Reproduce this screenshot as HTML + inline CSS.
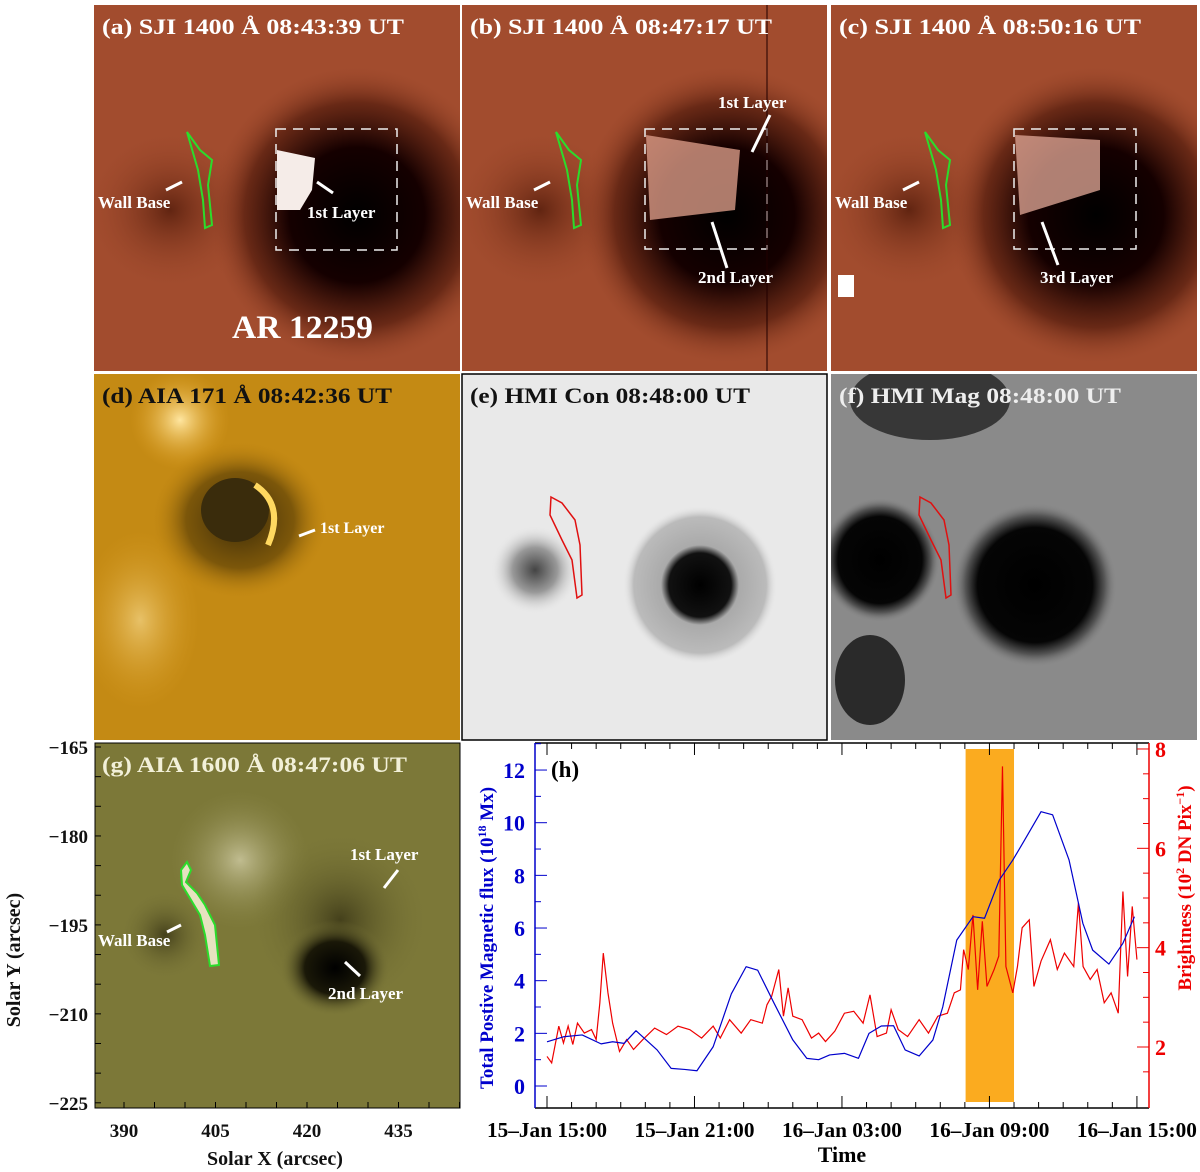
<!DOCTYPE html>
<html><head><meta charset="utf-8">
<style>
body{margin:0;background:#fff;}
svg{display:block;font-family:"Liberation Serif",serif;font-weight:bold;}
</style></head>
<body>
<svg id="fig" width="1200" height="1172" viewBox="0 0 1200 1172" xmlns="http://www.w3.org/2000/svg">
<defs>
<radialGradient id="spotA" cx="0.5" cy="0.5" r="0.5"><stop offset="0" stop-color="#000"/><stop offset="0.45" stop-color="#150000"/><stop offset="0.75" stop-color="#5a2010" stop-opacity="0.8"/><stop offset="1" stop-color="#a04a2c" stop-opacity="0"/></radialGradient>
<radialGradient id="spotL" cx="0.5" cy="0.5" r="0.5"><stop offset="0" stop-color="#5a200e" stop-opacity="0.9"/><stop offset="1" stop-color="#a04a2c" stop-opacity="0"/></radialGradient>
<radialGradient id="dspot" cx="0.5" cy="0.5" r="0.5"><stop offset="0" stop-color="#3a2a08"/><stop offset="0.6" stop-color="#6a4a08" stop-opacity="0.8"/><stop offset="1" stop-color="#c88a10" stop-opacity="0"/></radialGradient>
<radialGradient id="dbright" cx="0.5" cy="0.5" r="0.5"><stop offset="0" stop-color="#ffe6a0"/><stop offset="1" stop-color="#e0a020" stop-opacity="0"/></radialGradient>
<radialGradient id="epen" cx="0.5" cy="0.5" r="0.5"><stop offset="0" stop-color="#000"/><stop offset="0.4" stop-color="#111"/><stop offset="0.5" stop-color="#aaa"/><stop offset="0.85" stop-color="#bbb"/><stop offset="1" stop-color="#eee" stop-opacity="0"/></radialGradient>
<radialGradient id="epen2" cx="0.5" cy="0.5" r="0.5"><stop offset="0" stop-color="#444"/><stop offset="0.5" stop-color="#999"/><stop offset="1" stop-color="#eee" stop-opacity="0"/></radialGradient>
<radialGradient id="fspot" cx="0.5" cy="0.5" r="0.5"><stop offset="0" stop-color="#000"/><stop offset="0.7" stop-color="#050505"/><stop offset="0.85" stop-color="#555"/><stop offset="1" stop-color="#888" stop-opacity="0"/></radialGradient>
<radialGradient id="gspot" cx="0.5" cy="0.5" r="0.5"><stop offset="0" stop-color="#000"/><stop offset="0.55" stop-color="#1a1808"/><stop offset="1" stop-color="#7a7638" stop-opacity="0"/></radialGradient>
<radialGradient id="gdark" cx="0.5" cy="0.5" r="0.5"><stop offset="0" stop-color="#3e3a18" stop-opacity="0.9"/><stop offset="1" stop-color="#7a7638" stop-opacity="0"/></radialGradient>
<radialGradient id="gbright" cx="0.5" cy="0.5" r="0.5"><stop offset="0" stop-color="#c8c49a" stop-opacity="0.9"/><stop offset="1" stop-color="#8a8648" stop-opacity="0"/></radialGradient>
<clipPath id="cA"><rect x="94" y="5" width="366" height="366"/></clipPath>
<clipPath id="cB"><rect x="462" y="5" width="365" height="366"/></clipPath>
<clipPath id="cC"><rect x="831" y="5" width="366" height="366"/></clipPath>
<clipPath id="cD"><rect x="94" y="374" width="366" height="366"/></clipPath>
<clipPath id="cE"><rect x="462" y="374" width="365" height="366"/></clipPath>
<clipPath id="cF"><rect x="831" y="374" width="366" height="366"/></clipPath>
<clipPath id="cG"><rect x="95" y="743" width="365" height="365"/></clipPath>
</defs>

<!-- Panel a -->
<g clip-path="url(#cA)">
<rect x="94" y="5" width="366" height="366" fill="#a24c2e"/>
<ellipse cx="170" cy="210" rx="85" ry="80" fill="url(#spotL)"/>
<ellipse cx="357" cy="215" rx="150" ry="150" fill="url(#spotA)"/>
<path d="M277 150 L315 158 L312 190 L300 210 L277 210 Z" fill="#f5ece8"/>
<path d="M187 132 L200 150 L212 160 L208 185 L212 225 L205 228 L203 200 L198 170 Z" fill="none" stroke="#2bdc2b" stroke-width="2"/>
<rect x="276" y="129" width="121" height="121" fill="none" stroke="#eee" stroke-width="1.5" stroke-dasharray="10,7"/>
</g>
<!-- Panel b -->
<g clip-path="url(#cB)">
<rect x="462" y="5" width="365" height="366" fill="#a24c2e"/>
<ellipse cx="540" cy="210" rx="85" ry="80" fill="url(#spotL)"/>
<ellipse cx="727" cy="215" rx="150" ry="150" fill="url(#spotA)"/>
<path d="M646 135 L740 150 L735 210 L650 220 Z" fill="#d89a86" opacity="0.8"/>
<path d="M556 132 L569 150 L581 160 L577 185 L581 225 L574 228 L572 200 L567 170 Z" fill="none" stroke="#2bdc2b" stroke-width="2"/>
<rect x="645" y="129" width="122" height="120" fill="none" stroke="#eee" stroke-width="1.5" stroke-dasharray="10,7"/>
<line x1="767" y1="5" x2="767" y2="371" stroke="#200" stroke-width="2" opacity="0.5"/>
</g>
<!-- Panel c -->
<g clip-path="url(#cC)">
<rect x="831" y="5" width="366" height="366" fill="#a24c2e"/>
<ellipse cx="909" cy="210" rx="85" ry="80" fill="url(#spotL)"/>
<ellipse cx="1096" cy="215" rx="150" ry="150" fill="url(#spotA)"/>
<path d="M1015 135 L1100 140 L1100 190 L1020 215 Z" fill="#d8a090" opacity="0.8"/>
<path d="M925 132 L938 150 L950 160 L946 185 L950 225 L943 228 L941 200 L936 170 Z" fill="none" stroke="#2bdc2b" stroke-width="2"/>
<rect x="1014" y="129" width="122" height="120" fill="none" stroke="#eee" stroke-width="1.5" stroke-dasharray="10,7"/>
<rect x="838" y="275" width="16" height="22" fill="#fff"/>
</g>
<!-- Panel d -->
<g clip-path="url(#cD)">
<rect x="94" y="374" width="366" height="366" fill="#c48a14"/>
<ellipse cx="180" cy="420" rx="50" ry="50" fill="url(#dbright)"/>
<ellipse cx="140" cy="620" rx="60" ry="90" fill="url(#dbright)" opacity="0.6"/>
<ellipse cx="240" cy="520" rx="90" ry="80" fill="url(#dspot)"/>
<ellipse cx="235" cy="510" rx="34" ry="32" fill="#3a2c0c"/>
<path d="M255 485 Q285 505 268 545" fill="none" stroke="#ffd860" stroke-width="6"/>
</g>
<!-- Panel e -->
<g clip-path="url(#cE)">
<rect x="462" y="374" width="365" height="366" fill="#e9e9e9"/>
<ellipse cx="535" cy="570" rx="45" ry="45" fill="url(#epen2)"/>
<ellipse cx="700" cy="585" rx="78" ry="80" fill="url(#epen)"/>
<path d="M551 497 L562 503 L575 520 L580 545 L582 595 L577 598 L572 560 L562 540 L550 515 Z" fill="none" stroke="#e01010" stroke-width="1.5"/>
</g>
<rect x="462" y="374" width="365" height="366" fill="none" stroke="#000" stroke-width="1.5"/>
<!-- Panel f -->
<g clip-path="url(#cF)">
<rect x="831" y="374" width="366" height="366" fill="#8a8a8a"/>
<ellipse cx="1035" cy="585" rx="82" ry="82" fill="url(#fspot)"/>
<ellipse cx="880" cy="560" rx="60" ry="62" fill="url(#fspot)"/>
<ellipse cx="930" cy="400" rx="80" ry="40" fill="#222" opacity="0.8"/>
<ellipse cx="870" cy="680" rx="35" ry="45" fill="#111" opacity="0.8"/>
<path d="M920 497 L931 503 L944 520 L949 545 L951 595 L946 598 L941 560 L931 540 L919 515 Z" fill="none" stroke="#e01010" stroke-width="1.5"/>
</g>
<!-- Panel g -->
<g clip-path="url(#cG)">
<rect x="95" y="743" width="365" height="365" fill="#7c7838"/>
<ellipse cx="240" cy="860" rx="70" ry="70" fill="url(#gbright)"/>
<ellipse cx="165" cy="935" rx="45" ry="45" fill="url(#gdark)"/>
<ellipse cx="340" cy="920" rx="90" ry="90" fill="url(#gdark)"/>
<ellipse cx="335" cy="968" rx="55" ry="48" fill="url(#gspot)"/>
<path d="M187 862 L191 870 L186 882 L197 893 L205 905 L215 925 L219 965 L210 966 L205 935 L200 915 L194 905 L182 885 L181 870 Z" fill="#e6e2c0" stroke="#2bdc2b" stroke-width="2"/>
</g>
<rect x="95" y="743" width="365" height="365" fill="none" stroke="#000" stroke-width="1"/>

<!-- Panel labels and annotations -->
<g fill="#fff" font-size="22">
<text x="102" y="34" textLength="302" lengthAdjust="spacingAndGlyphs">(a) SJI 1400 Å  08:43:39 UT</text>
<text x="470" y="34" textLength="302" lengthAdjust="spacingAndGlyphs">(b) SJI 1400 Å  08:47:17 UT</text>
<text x="839" y="34" textLength="302" lengthAdjust="spacingAndGlyphs">(c) SJI 1400 Å  08:50:16 UT</text>
<text x="102" y="403" fill="#111" textLength="290" lengthAdjust="spacingAndGlyphs">(d) AIA 171 Å 08:42:36 UT</text>
<text x="470" y="403" fill="#111" textLength="280" lengthAdjust="spacingAndGlyphs">(e) HMI Con 08:48:00 UT</text>
<text x="839" y="403" fill="#eee" textLength="282" lengthAdjust="spacingAndGlyphs">(f) HMI Mag 08:48:00 UT</text>
<text x="102" y="772" fill="#f2f0d8" textLength="305" lengthAdjust="spacingAndGlyphs">(g) AIA 1600 Å 08:47:06 UT</text>
<text x="232" y="338" font-size="33" textLength="141" lengthAdjust="spacingAndGlyphs">AR 12259</text>
<g font-size="17">
<text x="98" y="208">Wall Base</text><text x="307" y="218">1st Layer</text>
<text x="466" y="208">Wall Base</text><text x="718" y="108">1st Layer</text><text x="698" y="283">2nd Layer</text>
<text x="835" y="208">Wall Base</text><text x="1040" y="283">3rd Layer</text>
<text x="320" y="533" font-size="16">1st Layer</text>
<text x="98" y="946">Wall Base</text><text x="350" y="860">1st Layer</text><text x="328" y="999">2nd Layer</text>
</g>
<g stroke="#fff" stroke-width="3" fill="none">
<path d="M166 190 L182 182"/><path d="M333 193 L317 182"/>
<path d="M534 190 L550 182"/><path d="M770 115 L752 152"/><path d="M727 268 L712 222"/>
<path d="M903 190 L919 182"/><path d="M1058 265 L1042 222"/>
<path d="M299 536 L315 530"/>
<path d="M167 932 L181 925"/><path d="M398 870 L384 888"/><path d="M360 976 L345 962"/>
</g>
</g>

<!-- g axes -->
<g font-size="19" fill="#111">
<g id="gxt"></g>
<text x="275" y="1165" text-anchor="middle" font-size="20">Solar X (arcsec)</text>
<text transform="translate(20 960) rotate(-90)" text-anchor="middle" font-size="20">Solar Y (arcsec)</text>
</g>

<!-- Chart h -->
<rect x="470" y="741" width="730" height="431" fill="#fff"/>
<g id="chart"></g>
</svg>
<script>
const NS='http://www.w3.org/2000/svg';
// ---- chart data ----
const fluxHours=[0,0.67,1.43,2.2,2.67,3.14,3.62,4.48,5.05,5.6,6.1,6.76,7.5,8.1,8.57,9.24,10,10.57,11.05,11.5,12.1,12.67,13.1,13.6,14.1,14.57,15.14,15.7,16.1,16.67,17.33,17.8,18.4,18.95,19.43,20.1,20.57,21.24,21.8,22.2,22.86,23.43,23.9];
const fluxValues=[1.68,1.87,1.94,1.6,1.68,1.62,2.1,1.37,0.67,0.63,0.58,1.49,3.5,4.53,4.4,3.14,1.75,1.05,1.0,1.18,1.24,1.05,2.0,2.28,2.29,1.37,1.14,1.75,3.0,5.54,6.43,6.37,7.82,8.58,9.34,10.42,10.3,8.58,6.18,5.16,4.63,5.42,6.43];
const brightHours=[0,0.19,0.48,0.67,0.86,1.05,1.24,1.52,1.81,2.0,2.15,2.29,2.48,2.67,2.95,3.24,3.52,3.9,4.38,4.86,5.33,5.81,6.29,6.76,7.05,7.43,7.9,8.29,8.76,8.95,9.14,9.43,9.62,9.81,10.0,10.38,10.76,11.05,11.33,11.71,12.1,12.48,12.86,13.14,13.43,13.81,14.0,14.29,14.67,15.14,15.52,15.9,16.29,16.57,16.82,16.95,17.14,17.33,17.52,17.71,17.9,18.19,18.38,18.53,18.67,18.95,19.14,19.33,19.62,19.81,20.1,20.48,20.76,21.05,21.43,21.62,21.81,22.1,22.38,22.67,22.95,23.24,23.43,23.62,23.81,24.0];
const brightValues=[1.81,1.68,2.42,2.08,2.42,2.05,2.48,2.28,2.35,2.15,2.89,3.89,3.09,2.48,1.91,2.15,1.95,2.15,2.38,2.25,2.42,2.35,2.18,2.42,2.18,2.55,2.28,2.55,2.48,2.85,3.02,3.56,2.62,3.19,2.62,2.55,2.18,2.28,2.11,2.32,2.68,2.72,2.48,3.05,2.21,2.28,2.75,2.35,2.21,2.55,2.28,2.62,2.68,3.09,3.15,3.96,3.56,4.66,3.15,4.53,3.22,3.56,3.83,7.65,3.62,3.09,3.62,4.40,4.56,3.22,3.73,4.16,3.56,3.89,3.62,4.9,3.62,3.36,3.56,2.89,3.09,2.68,5.13,3.42,4.83,3.76];
const timeTickLabels=['15\u2013Jan 15:00','15\u2013Jan 21:00','16\u2013Jan 03:00','16\u2013Jan 09:00','16\u2013Jan 15:00'];
const leftTicks=[0,2,4,6,8,10,12];
const rightTicks=[2,4,6,8];
const bandStart=[17.03];
const bandEnd=[19.0];
const gxTicks=[390,405,420,435];
const gyTicks=[-165,-180,-195,-210,-225];

const X=h=>547+h*24.58;
const YL=v=>1086-v*26.33;
const YR=v=>1047-(v-2)*49.67;
const chart=document.getElementById('chart');
function mk(tag,attrs,parent){const e=document.createElementNS(NS,tag);for(const k in attrs)e.setAttribute(k,attrs[k]);(parent||chart).appendChild(e);return e;}
const L=535,R=1149,T=743,B=1108;
const band=mk('rect',{x:X(bandStart[0]),y:749,width:X(bandEnd[0])-X(bandStart[0]),height:1102-749,fill:'#fbab1f'});


mk('line',{x1:L,y1:B,x2:R,y2:B,stroke:'#000','stroke-width':1.5});
mk('line',{x1:L,y1:T,x2:R,y2:T,stroke:'#000','stroke-width':1.5});
const la=mk('line',{x1:L,y1:T,x2:L,y2:B,stroke:'#00c','stroke-width':1.5});


const ra=mk('line',{x1:R,y1:T,x2:R,y2:B,stroke:'#e00','stroke-width':1.5});


for(let h=0;h<=24;h++){const maj=h%6===0;const x=X(h);
mk('line',{x1:x,y1:B,x2:x,y2:B-(maj?12:6),stroke:'#000'});
mk('line',{x1:x,y1:T,x2:x,y2:T+(maj?12:6),stroke:'#000'});}
timeTickLabels.forEach((s,i)=>{const t=mk('text',{x:X(i*6),y:1137,'text-anchor':'middle','font-size':21,textLength:120,lengthAdjust:'spacingAndGlyphs',fill:'#000'});t.textContent=s;

});
const xt=mk('text',{x:X(12),y:1162,'text-anchor':'middle','font-size':22,fill:'#000'});xt.textContent='Time';


for(let v=-1;v<=13;v++){const y=YL(v);if(y<T||y>B)continue;const maj=leftTicks.includes(v);
mk('line',{x1:L,y1:y,x2:L+(maj?12:6),y2:y,stroke:'#00c'});}
leftTicks.forEach(v=>{const t=mk('text',{x:L-10,y:YL(v)+8,'text-anchor':'end','font-size':22,fill:'#00c'});t.textContent=v;

});
const lt=mk('text',{transform:'translate(493 938) rotate(-90)','text-anchor':'middle','font-size':19,fill:'#00c'});
lt.innerHTML='Total Postive Magnetic flux (10<tspan dy="-7" font-size="12">18</tspan><tspan dy="7"> Mx)</tspan>';


for(let v=1.5;v<=8;v+=0.5){const y=YR(v);if(y<T||y>B)continue;const maj=rightTicks.includes(v);
mk('line',{x1:R,y1:y,x2:R-(maj?12:6),y2:y,stroke:'#e00'});}
rightTicks.forEach(v=>{const t=mk('text',{x:R+6,y:YR(v)+8,'font-size':22,fill:'#e00'});t.textContent=v;

});
const rt=mk('text',{transform:'translate(1191 888) rotate(-90)','text-anchor':'middle','font-size':19,fill:'#e00'});
rt.innerHTML='Brightness (10<tspan dy="-7" font-size="12">2</tspan><tspan dy="7"> DN Pix</tspan><tspan dy="-7" font-size="12">\u22121</tspan><tspan dy="7">)</tspan>';


const rp=mk('polyline',{points:brightHours.map((h,i)=>X(h)+','+YR(brightValues[i])).join(' '),fill:'none',stroke:'#e00','stroke-width':1.2});


const bp=mk('polyline',{points:fluxHours.map((h,i)=>X(h)+','+YL(fluxValues[i])).join(' '),fill:'none',stroke:'#00c','stroke-width':1.2,'stroke-linejoin':'round'});


const hl=mk('text',{x:551,y:777,'font-size':23,fill:'#000'});hl.textContent='(h)';



const gx=v=>124+(v-390)*6.1;
const gy=v=>747+(-165-v)*5.93;
const gg=document.getElementById('gxt');
for(let v=385;v<=445;v+=5){const x=gx(v);if(x<95||x>460)continue;mk('line',{x1:x,y1:1108,x2:x,y2:1102,stroke:'#000'},gg);}
gxTicks.forEach(v=>{const t=mk('text',{x:gx(v),y:1137,'text-anchor':'middle'},gg);t.textContent=v;

});
for(let v=-165;v>=-225;v-=5){mk('line',{x1:95,y1:gy(v),x2:101,y2:gy(v),stroke:'#000'},gg);}
gyTicks.forEach(v=>{const t=mk('text',{x:88,y:gy(v)+7,'text-anchor':'end'},gg);t.textContent='\u2212'+(-v);

});
</script>
</body></html>
